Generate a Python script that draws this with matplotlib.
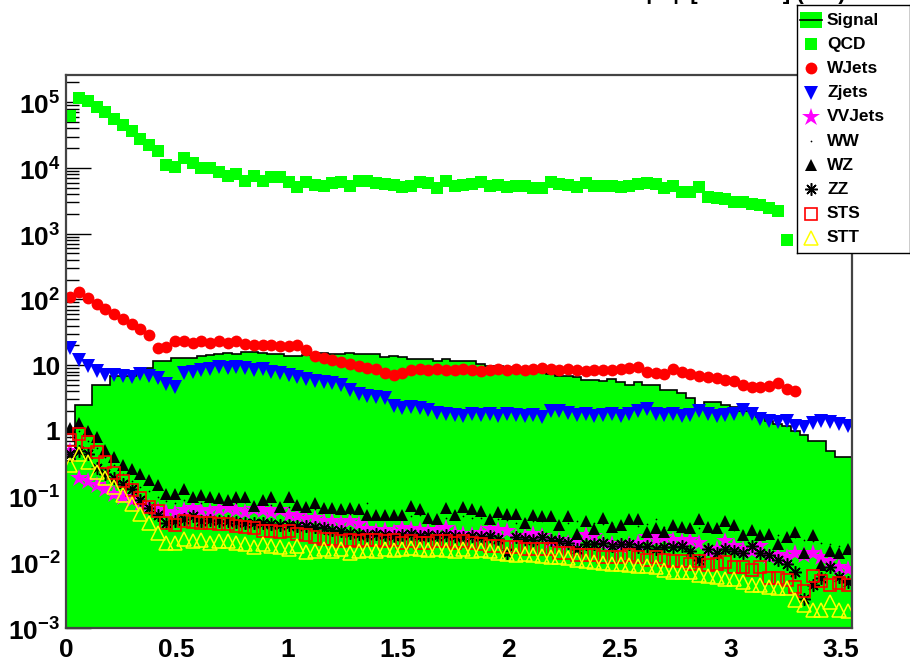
import numpy as np
import matplotlib
matplotlib.use("Agg")
import matplotlib.pyplot as plt
from matplotlib.ticker import FixedLocator, FixedFormatter, LogLocator, MultipleLocator, NullFormatter

plt.rcParams['font.family'] = ['Liberation Sans', 'DejaVu Sans']
plt.rcParams['font.weight'] = 'bold'
plt.rcParams['mathtext.fontset'] = 'custom'
plt.rcParams['mathtext.rm'] = 'Liberation Sans:bold'
plt.rcParams['mathtext.bf'] = 'Liberation Sans:bold'

# ---- binning ----
x_min, x_max, n_bins = 0.0, 3.55, 90

# ---- histogram contents (one value per bin) ----
signal = [0.35, 2.5, 2.5, 5.0, 5.0, 6.8, 6.8, 6.8, 9.0, 9.0,
          11.4, 11.4, 12.7, 12.7, 13.0, 13.6, 14.3, 15.0, 15.2, 15.0,
          15.6, 15.6, 15.4, 14.6, 14.6, 14.0, 14.0, 14.2, 15.0, 15.2,
          15.0, 15.0, 15.4, 14.6, 14.6, 14.6, 13.1, 13.6, 13.1, 12.3,
          12.3, 12.3, 11.4, 12.3, 11.4, 11.4, 11.4, 10.3, 9.8, 9.6,
          9.3, 9.0, 8.6, 8.2, 7.8, 7.4, 6.8, 6.8, 6.5, 5.9,
          5.9, 5.7, 6.1, 5.5, 5.0, 5.5, 5.0, 5.0, 4.2, 4.2,
          3.8, 3.2, 2.4, 2.75, 2.75, 2.5, 2.3, 2.0, 2.0, 1.6,
          1.4, 1.27, 1.19, 1.0, 0.87, 0.7, 0.7, 0.5, 0.4, 0.4]

qcd = [6.2e4, 1.15e5, 1.05e5, 8.5e4, 7.1e4, 5.6e4, 4.5e4, 3.7e4, 2.8e4, 2.2e4,
       1.8e4, 1.1e4, 1.05e4, 1.4e4, 1.2e4, 9.9e3, 9.9e3, 8.6e3, 7.5e3, 8.2e3,
       6.3e3, 7.5e3, 6.3e3, 7.2e3, 7.2e3, 6.1e3, 5.2e3, 6.2e3, 5.6e3, 5.4e3,
       6.0e3, 6.2e3, 5.4e3, 6.4e3, 6.3e3, 6.0e3, 5.8e3, 5.6e3, 5.1e3, 5.4e3,
       6.2e3, 6.0e3, 4.9e3, 6.4e3, 5.4e3, 5.6e3, 5.8e3, 6.2e3, 5.4e3, 5.6e3,
       5.1e3, 5.3e3, 5.4e3, 5.0e3, 4.9e3, 6.2e3, 5.8e3, 5.6e3, 5.2e3, 6.0e3,
       5.4e3, 5.4e3, 5.3e3, 5.2e3, 5.3e3, 5.8e3, 5.9e3, 5.7e3, 4.9e3, 5.4e3,
       4.3e3, 4.3e3, 5.2e3, 3.6e3, 3.5e3, 3.4e3, 3.0e3, 3.0e3, 2.8e3, 2.7e3,
       2.5e3, 2.2e3, 8.0e2, None, None, None, None, None, None, None]

wjets = [110, 130, 106, 86, 72, 61, 51, 43, 36, 29,
         18, 18.6, 23, 23, 22, 23, 22, 23, 22, 23,
         21, 20.6, 20, 20.6, 19.4, 19.4, 20, 17, 14, 13,
         12, 11, 10.5, 9.8, 9.2, 8.8, 7.6, 7.2, 7.5, 8.3,
         8.6, 8.4, 8.8, 8.5, 8.3, 8.7, 8.4, 8.2, 8.5, 8.6,
         8.3, 8.8, 8.5, 8.7, 8.9, 8.6, 8.4, 8.8, 8.5, 8.2,
         8.4, 8.4, 8.4, 8.6, 9.0, 9.4, 7.8, 7.6, 7.4, 8.6,
         7.8, 7.4, 6.8, 6.6, 6.3, 6.0, 5.7, 4.9, 4.6, 4.6,
         4.8, 5.3, 4.3, 4.0, None, None, None, None, None, None]

zjets = [18, 12, 9.6, 8.1, 7.0, 7.0, 6.8, 6.6, 7.3, 6.8,
         6.3, 5.1, 4.6, 7.5, 7.8, 8.4, 8.7, 9.3, 9.0, 9.3,
         9.0, 8.4, 8.7, 7.8, 7.5, 7.0, 6.6, 6.1, 5.7, 5.5,
         5.3, 5.0, 4.2, 3.6, 3.4, 3.3, 3.2, 2.4, 2.2, 2.3,
         2.2, 2.1, 1.9, 1.8, 1.75, 1.7, 1.8, 1.75, 1.8, 1.7,
         1.8, 1.75, 1.7, 1.75, 1.6, 2.0, 2.0, 1.9, 1.75, 1.8,
         1.7, 1.75, 1.8, 1.7, 1.8, 2.0, 2.15, 1.8, 1.75, 1.8,
         1.7, 1.75, 2.0, 1.8, 1.7, 1.75, 1.8, 2.1, 1.8, 1.5,
         1.4, 1.35, 1.4, 1.2, 1.15, 1.3, 1.4, 1.35, 1.25, 1.2]

vvjets = [0.5, 0.19, 0.17, 0.15, 0.13, 0.11, 0.10, 0.088, 0.078, 0.069,
          0.062, 0.058, 0.057, 0.062, 0.066, 0.062, 0.06, 0.064, 0.066, 0.062,
          0.058, 0.064, 0.062, 0.058, 0.062, 0.053, 0.05, 0.045, 0.048, 0.043,
          0.042, 0.04, 0.042, 0.038, 0.032, 0.03, 0.031, 0.029, 0.033, 0.032,
          0.031, 0.03, 0.031, 0.033, 0.028, 0.027, 0.026, 0.028, 0.032, 0.031,
          0.03, 0.024, 0.025, 0.027, 0.025, 0.021, 0.022, 0.02, 0.021, 0.026,
          0.025, 0.02, 0.019, 0.018, 0.019, 0.02, 0.024, 0.023, 0.024, 0.022,
          0.021, 0.022, 0.02, 0.015, 0.016, 0.021, 0.018, 0.016, 0.015, 0.018,
          0.0125, 0.013, 0.012, 0.014, 0.013, 0.014, 0.012, 0.0105, 0.0085, 0.008]

ww = [0.8, 1.0, 0.7, 0.55, 0.4, 0.3, 0.22, 0.17, 0.14, 0.12,
      0.1, 0.085, 0.08, 0.09, 0.085, 0.08, 0.085, 0.082, 0.078, 0.08,
      0.082, 0.075, 0.078, 0.075, 0.072, 0.07, 0.072, 0.068, 0.065, 0.062,
      0.06, 0.058, 0.055, 0.06, 0.08, 0.055, 0.052, 0.05, 0.054, 0.05,
      0.052, 0.048, 0.05, 0.048, 0.046, 0.05, 0.047, 0.048, 0.045, 0.046,
      0.044, 0.04, 0.045, 0.043, 0.042, 0.044, 0.041, 0.04, 0.042, 0.039,
      0.04, 0.038, 0.04, 0.037, 0.039, 0.036, 0.038, 0.045, 0.035, 0.036,
      0.034, 0.035, 0.033, 0.034, 0.032, 0.039, 0.031, 0.03, 0.029, 0.028,
      0.027, 0.026, 0.025, 0.024, 0.022, 0.021, 0.02, 0.019, 0.018, 0.017]

wz = [1.1, 1.3, 1.0, 0.8, 0.52, 0.40, 0.30, 0.26, 0.22, 0.18,
      0.15, 0.11, 0.11, 0.13, 0.10, 0.105, 0.10, 0.095, 0.09, 0.097,
      0.10, 0.073, 0.09, 0.10, 0.07, 0.097, 0.075, 0.07, 0.08, 0.066,
      0.066, 0.064, 0.066, 0.064, 0.052, 0.053, 0.052, 0.053, 0.052, 0.073,
      0.065, 0.048, 0.045, 0.066, 0.052, 0.07, 0.065, 0.06, 0.045, 0.058,
      0.055, 0.055, 0.039, 0.052, 0.05, 0.05, 0.037, 0.05, 0.027, 0.043,
      0.032, 0.048, 0.035, 0.037, 0.045, 0.045, 0.029, 0.033, 0.029, 0.037,
      0.035, 0.033, 0.045, 0.035, 0.033, 0.042, 0.037, 0.026, 0.031, 0.026,
      0.027, 0.019, 0.024, 0.029, 0.014, 0.026, 0.009, 0.015, 0.014, 0.016]

zz = [0.45, 0.5, 0.45, 0.27, 0.22, 0.19, 0.155, 0.13, 0.09, 0.068,
      0.052, 0.04, 0.042, 0.045, 0.05, 0.043, 0.044, 0.042, 0.043, 0.041,
      0.04, 0.04, 0.039, 0.038, 0.037, 0.037, 0.036, 0.036, 0.035, 0.033,
      0.031, 0.03, 0.028, 0.027, 0.026, 0.027, 0.026, 0.025, 0.026, 0.027,
      0.025, 0.026, 0.025, 0.026, 0.025, 0.024, 0.025, 0.024, 0.025, 0.023,
      0.014, 0.024, 0.023, 0.022, 0.024, 0.022, 0.021, 0.02, 0.016, 0.019,
      0.019, 0.02, 0.018, 0.019, 0.019, 0.017, 0.018, 0.016, 0.017, 0.017,
      0.018, 0.015, 0.011, 0.016, 0.014, 0.016, 0.015, 0.014, 0.018, 0.014,
      0.013, 0.011, 0.0095, 0.007, 0.0028, 0.0045, 0.0058, 0.0085, 0.006, 0.005]

sts = [0.73, 0.9, 0.68, 0.48, 0.33, 0.23, 0.175, 0.128, 0.094, 0.07,
       0.06, 0.039, 0.037, 0.042, 0.041, 0.04, 0.04, 0.038, 0.038, 0.036,
       0.034, 0.033, 0.03, 0.03, 0.029, 0.03, 0.027, 0.026, 0.024, 0.023,
       0.023, 0.021, 0.022, 0.021, 0.022, 0.022, 0.021, 0.022, 0.02, 0.021,
       0.02, 0.02, 0.021, 0.021, 0.02, 0.021, 0.02, 0.019, 0.018, 0.018,
       0.017, 0.017, 0.016, 0.016, 0.016, 0.016, 0.014, 0.014, 0.013, 0.013,
       0.013, 0.012, 0.012, 0.012, 0.013, 0.012, 0.011, 0.012, 0.011, 0.0105,
       0.0105, 0.0095, 0.0105, 0.009, 0.0095, 0.01, 0.0085, 0.0085, 0.0075, 0.0085,
       0.0057, 0.0057, 0.0053, 0.0042, 0.0037, 0.0062, 0.0052, 0.0045, 0.0048, 0.0045]

stt = [0.3, 0.45, 0.33, 0.24, 0.19, 0.14, 0.105, 0.078, 0.055, 0.04,
       0.028, 0.02, 0.02, 0.023, 0.021, 0.022, 0.02, 0.021, 0.021, 0.02,
       0.019, 0.017, 0.019, 0.018, 0.017, 0.016, 0.018, 0.0145, 0.015, 0.016,
       0.015, 0.016, 0.014, 0.015, 0.0155, 0.015, 0.016, 0.0155, 0.016, 0.0165,
       0.016, 0.0155, 0.016, 0.0155, 0.015, 0.016, 0.015, 0.0155, 0.015, 0.014,
       0.0135, 0.013, 0.0135, 0.013, 0.0125, 0.012, 0.012, 0.0115, 0.011, 0.0105,
       0.01, 0.0098, 0.0095, 0.0095, 0.009, 0.0088, 0.0088, 0.0085, 0.0075, 0.0072,
       0.0072, 0.007, 0.0065, 0.0062, 0.006, 0.0055, 0.0055, 0.005, 0.0045, 0.0045,
       0.0042, 0.004, 0.0041, 0.0027, 0.0022, 0.0019, 0.0019, 0.0025, 0.0019, 0.0018]

legend_labels = ["Signal", "QCD", "WJets", "Zjets", "VVJets", "WW", "WZ", "ZZ", "STS", "STT"]
title_text = "|Δφ [MET-Jet] (rad)"

y_tick_values = [1e-3, 1e-2, 1e-1, 1, 10, 1e2, 1e3, 1e4, 1e5]
y_tick_labels = [r"$10^{-3}$", r"$10^{-2}$", r"$10^{-1}$", "1", "10",
                 r"$10^{2}$", r"$10^{3}$", r"$10^{4}$", r"$10^{5}$"]

# ---- marker styles for the background samples ----
GREEN = "#00ff00"
styles = [
    (qcd,    dict(marker="s", ms=9.0, mfc=GREEN, mec=GREEN, mew=0)),
    (wjets,  dict(marker="o", ms=8.5, mfc="#ff0000", mec="#ff0000", mew=0)),
    (zjets,  dict(marker="v", ms=10.0, mfc="#0000ff", mec="#0000ff", mew=0)),
    (vvjets, dict(marker="*", ms=13.5, mfc="#ff00ff", mec="#ff00ff", mew=0)),
    (ww,     dict(marker=".", ms=2.5, mfc="black", mec="black", mew=0)),
    (wz,     dict(marker="^", ms=8.5, mfc="black", mec="black", mew=0)),
    (zz,     dict(marker=(8, 2, 0), ms=9.0, mfc="black", mec="black", mew=1.1)),
    (sts,    dict(marker="s", ms=9.0, mfc="none", mec="#ff0000", mew=1.2)),
    (stt,    dict(marker="^", ms=10.0, mfc="none", mec="#ffff00", mew=1.1)),
]

edges = np.linspace(x_min, x_max, n_bins + 1)
centers = 0.5 * (edges[:-1] + edges[1:])

fig = plt.figure(figsize=(9.1, 6.6), dpi=100)
ax = fig.add_axes([66 / 910, 1 - 628 / 660, (852 - 66) / 910, (628 - 75) / 660])
ax.set_yscale("log")
ax.set_xlim(x_min, x_max)
ax.set_ylim(1e-3, 2.6e5)
ax.set_axisbelow(True)

# signal histogram: green fill with a black outline
sig = np.array(signal, dtype=float)
ax.stairs(sig, edges, baseline=1e-4, fill=True, color=GREEN, zorder=1)
ax.stairs(sig, edges, baseline=1e-4, fill=False, color="black", lw=1.2, zorder=1.1)

for i, (vals, st) in enumerate(styles):
    ax.plot(centers, np.array(vals, dtype=float), ls="none", zorder=2 + i * 0.1, **st)

# axes decoration
for s in ax.spines.values():
    s.set_color("#444444")
    s.set_linewidth(1.6)
    s.set_zorder(5)

ax.yaxis.set_major_locator(FixedLocator(y_tick_values))
ax.yaxis.set_major_formatter(FixedFormatter(y_tick_labels))
ax.yaxis.set_minor_locator(LogLocator(base=10, subs=np.arange(2, 10), numticks=20))
ax.yaxis.set_minor_formatter(NullFormatter())
ax.xaxis.set_major_locator(MultipleLocator(0.5))
ax.xaxis.set_minor_locator(MultipleLocator(0.1))
ax.xaxis.set_major_formatter(plt.FuncFormatter(lambda v, p: f"{v:g}"))

ax.tick_params(axis="both", which="both", direction="in", top=False, right=False, color="black")
ax.tick_params(axis="y", which="major", length=18, width=1.0, pad=4, labelsize=19)
ax.tick_params(axis="y", which="minor", length=9, width=1.0)
ax.tick_params(axis="x", which="major", length=18, width=1.0, pad=7, labelsize=19)
ax.tick_params(axis="x", which="minor", length=9, width=1.0)
for lab in ax.get_xticklabels() + ax.get_yticklabels():
    lab.set_fontweight("bold")

# title sits at the very top edge of the canvas, mostly above it
fig.text(646 / 910, 1 + 1 / 660, title_text, ha="left", va="baseline",
         fontsize=16, fontweight="bold")

# legend box
lw_px, lh_px = 113, 248
lax = fig.add_axes([797 / 910, 1 - 253 / 660, lw_px / 910, lh_px / 660])
lax.set_zorder(10)
lax.set_xlim(0, lw_px)
lax.set_ylim(lh_px, 0)
lax.set_xticks([])
lax.set_yticks([])
lax.set_facecolor("white")
for s in lax.spines.values():
    s.set_color("black")
    s.set_linewidth(1.0)

row0, step = 15, 24.2
ys = [row0 + k * step for k in range(len(legend_labels))]
lax.add_patch(plt.Rectangle((3, ys[0] - 8), 22, 16, color=GREEN, lw=0))
lax.plot([3, 25], [ys[0], ys[0]], color="black", lw=1.2)
for k, (vals, st) in enumerate(styles, start=1):
    lax.plot([14], [ys[k]], ls="none", **st)
for k, lab in enumerate(legend_labels):
    lax.text(30, ys[k], lab, ha="left", va="center", fontsize=12.5, fontweight="bold")

fig.savefig("out.png", dpi=100)
